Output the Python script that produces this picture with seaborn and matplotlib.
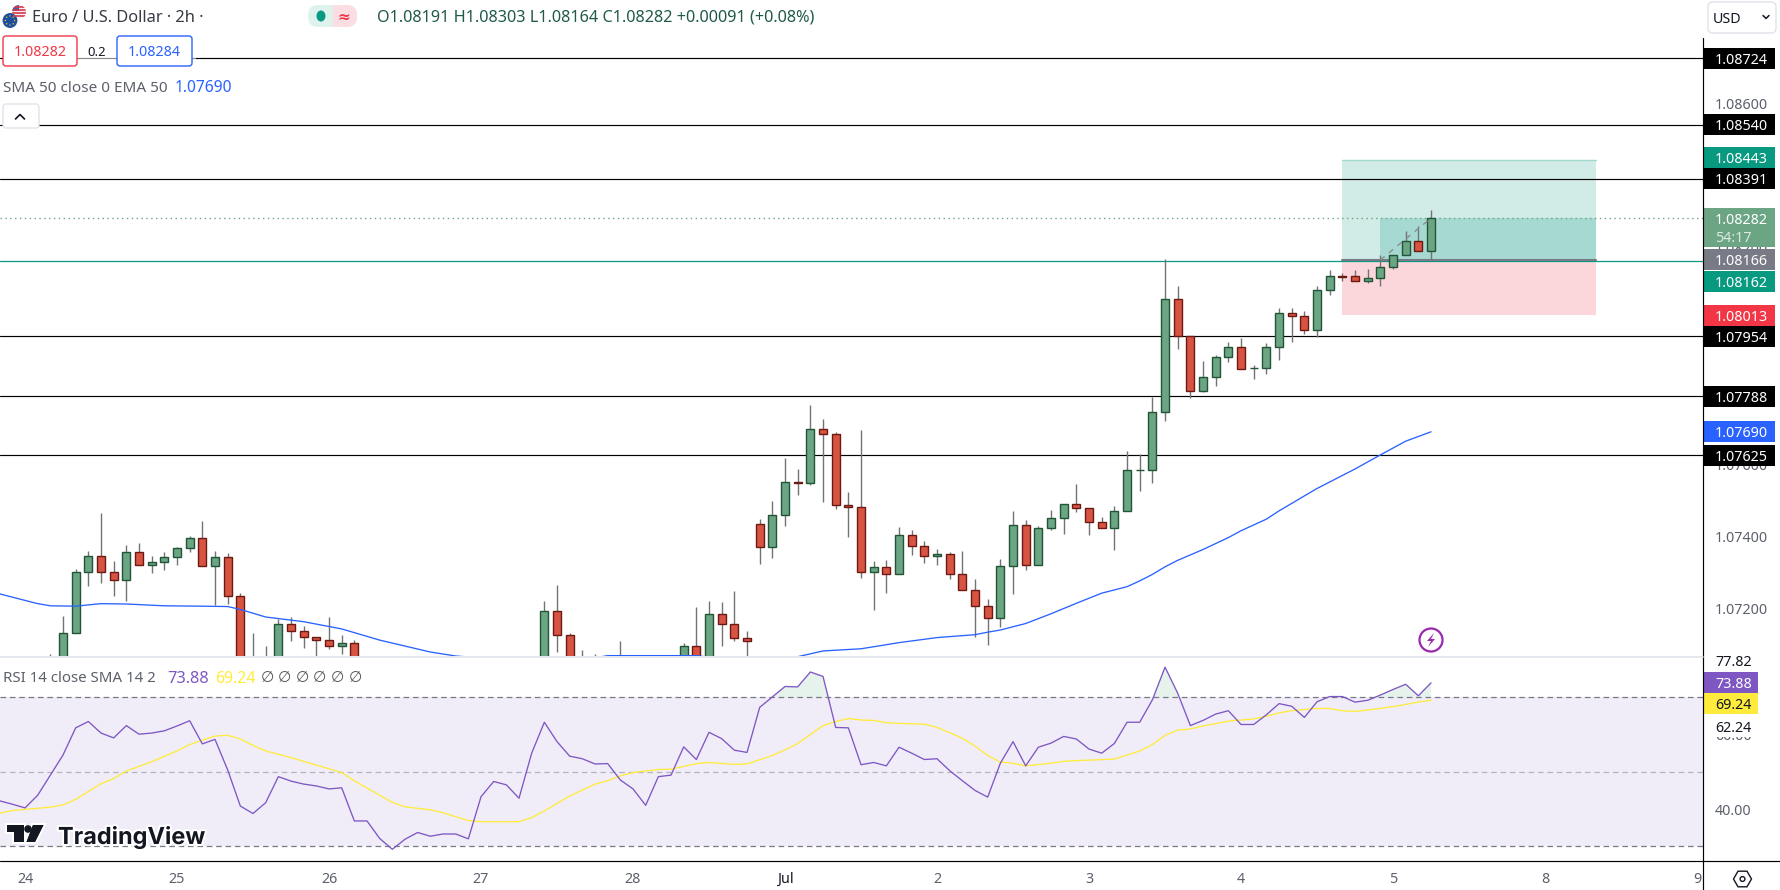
import numpy as np
import seaborn as sns
import matplotlib.pyplot as plt
from matplotlib import patches
import matplotlib.patheffects as pe

# candles that reach into the visible part of the price pane
candle_idx = [2, 3, 4, 5, 6, 7, 8, 9, 10, 11, 12, 13, 14, 15, 16, 17, 18, 19, 20, 21, 22, 23, 24, 25, 26,
              41, 42, 43, 44, 45, 47, 52, 53, 54, 55, 56, 57,
              58, 59, 60, 61, 62, 63, 64, 65, 66, 67, 68, 69, 70, 71, 72, 73, 74, 75, 76,
              77, 78, 79, 80, 81, 82, 83, 84, 85, 86, 87, 88, 89, 90, 91, 92, 93, 94, 95, 96,
              97, 98, 99, 100, 101, 102, 103, 104, 105, 106, 107, 108, 109, 110, 111]
opens = [1.07040, 1.07002, 1.07134, 1.07301, 1.07345, 1.07301, 1.07279, 1.07356, 1.07320, 1.07328,
         1.07342, 1.07367, 1.07395, 1.07317, 1.07342, 1.07234, 1.07050, 1.07040, 1.07020, 1.07159,
         1.07137, 1.07123, 1.07112, 1.07098, 1.07104,
         1.07020, 1.07195, 1.07126, 1.07040, 1.07040, 1.07040, 1.07030, 1.07096, 1.07040, 1.07184,
         1.07159, 1.07118,
         1.07434, 1.07370, 1.07459, 1.07550, 1.07547, 1.07697, 1.07683, 1.07486, 1.07481, 1.07301,
         1.07315, 1.07295, 1.07403, 1.07373, 1.07345, 1.07351, 1.07295, 1.07251, 1.07207,
         1.07173, 1.07317, 1.07431, 1.07320, 1.07423, 1.07450, 1.07489, 1.07478, 1.07439, 1.07423,
         1.07470, 1.07583, 1.07584, 1.07744, 1.08057, 1.07956, 1.07802, 1.07841, 1.07896, 1.07924,
         1.07866, 1.07866, 1.07924, 1.08018, 1.08010, 1.07971, 1.08082, 1.08121, 1.08121, 1.08107,
         1.08115, 1.08146, 1.08179, 1.08218, 1.08191]
highs = [1.07074, 1.07180, 1.07310, 1.07360, 1.07465, 1.07332, 1.07376, 1.07382, 1.07346, 1.07356,
         1.07371, 1.07401, 1.07443, 1.07360, 1.07354, 1.07243, 1.07133, 1.07097, 1.07171, 1.07177,
         1.07152, 1.07123, 1.07177, 1.07127, 1.07113,
         1.07221, 1.07266, 1.07133, 1.07085, 1.07074, 1.07110, 1.07105, 1.07205, 1.07221, 1.07218,
         1.07249, 1.07138,
         1.07448, 1.07498, 1.07617, 1.07587, 1.07764, 1.07725, 1.07689, 1.07523, 1.07695, 1.07332,
         1.07335, 1.07426, 1.07418, 1.07387, 1.07365, 1.07357, 1.07360, 1.07282, 1.07227,
         1.07338, 1.07471, 1.07446, 1.07429, 1.07473, 1.07489, 1.07545, 1.07478, 1.07454, 1.07484,
         1.07637, 1.07628, 1.07786, 1.08168, 1.08094, 1.07956, 1.07886, 1.07903, 1.07939, 1.07950,
         1.07875, 1.07936, 1.08033, 1.08033, 1.08025, 1.08094, 1.08138, 1.08130, 1.08138, 1.08141,
         1.08180, 1.08179, 1.08246, 1.08260, 1.08303]
lows = [1.07000, 1.07000, 1.07134, 1.07264, 1.07272, 1.07236, 1.07222, 1.07320, 1.07300, 1.07308,
        1.07322, 1.07358, 1.07317, 1.07211, 1.07214, 1.07050, 1.07000, 1.07000, 1.07000, 1.07111,
        1.07092, 1.07058, 1.07089, 1.07075, 1.07040,
        1.07000, 1.07081, 1.07000, 1.07000, 1.07000, 1.07000, 1.07000, 1.07000, 1.07000, 1.07097,
        1.07111, 1.07040,
        1.07325, 1.07341, 1.07430, 1.07515, 1.07543, 1.07495, 1.07475, 1.07399, 1.07286, 1.07197,
        1.07244, 1.07295, 1.07349, 1.07327, 1.07322, 1.07283, 1.07251, 1.07122, 1.07100,
        1.07150, 1.07241, 1.07308, 1.07320, 1.07418, 1.07408, 1.07469, 1.07405, 1.07423, 1.07363,
        1.07470, 1.07527, 1.07549, 1.07721, 1.07920, 1.07783, 1.07799, 1.07818, 1.07884, 1.07863,
        1.07837, 1.07851, 1.07890, 1.07939, 1.07962, 1.07952, 1.08070, 1.08108, 1.08107, 1.08103,
        1.08095, 1.08140, 1.08179, 1.08190, 1.08164]
closes = [1.07050, 1.07134, 1.07301, 1.07345, 1.07301, 1.07279, 1.07356, 1.07320, 1.07328, 1.07342,
          1.07367, 1.07395, 1.07317, 1.07342, 1.07234, 1.07060, 1.07040, 1.07050, 1.07159, 1.07137,
          1.07123, 1.07112, 1.07098, 1.07104, 1.07050,
          1.07195, 1.07126, 1.07040, 1.07020, 1.07020, 1.07020, 1.07096, 1.07040, 1.07184, 1.07159,
          1.07118, 1.07110,
          1.07370, 1.07459, 1.07550, 1.07549, 1.07697, 1.07683, 1.07486, 1.07481, 1.07301, 1.07315,
          1.07295, 1.07403, 1.07373, 1.07345, 1.07351, 1.07295, 1.07251, 1.07207, 1.07173,
          1.07317, 1.07431, 1.07320, 1.07423, 1.07450, 1.07489, 1.07478, 1.07439, 1.07423, 1.07470,
          1.07583, 1.07584, 1.07744, 1.08057, 1.07956, 1.07802, 1.07841, 1.07896, 1.07924, 1.07863,
          1.07867, 1.07924, 1.08018, 1.08010, 1.07971, 1.08082, 1.08121, 1.08120, 1.08107, 1.08115,
          1.08146, 1.08179, 1.08218, 1.08190, 1.08282]

ema_idx = [-2, 1, 2, 4, 6, 8, 11, 14, 16, 17, 19, 22, 25, 28, 32, 34, 38, 44, 46, 53, 57, 61, 63, 66, 69,
           72, 75, 76, 77, 79, 81, 83, 85, 87, 88, 89, 90, 91, 93, 95, 96, 98, 99, 102, 105, 107, 109, 111]
ema_vals = [1.07241, 1.07214, 1.07208, 1.07207, 1.07214, 1.07213, 1.07208, 1.07207, 1.07206, 1.07198,
            1.07177, 1.07164, 1.07144, 1.07113, 1.07080, 1.07069, 1.07058, 1.07058, 1.07070, 1.07070,
            1.07052, 1.07067, 1.07083, 1.07089, 1.07106, 1.07120, 1.07128, 1.07135, 1.07141, 1.07159,
            1.07186, 1.07215, 1.07243, 1.07261, 1.07277, 1.07295, 1.07316, 1.07334, 1.07364, 1.07397,
            1.07416, 1.07448, 1.07471, 1.07533, 1.07587, 1.07626, 1.07664, 1.07690]

rsi_idx = list(range(-2, 112))
rsi_vals = [42.2, 41.3, 40.3, 43.7, 49.1, 54.5, 61.8, 63.5, 60.4, 59.1, 62.4, 60.1, 60.4, 61.0, 62.3, 63.7,
            57.5, 58.7, 50.5, 40.8, 38.8, 41.7, 48.7, 47.5, 46.7, 46.2, 45.4, 45.7, 36.8, 36.8, 32.1, 29.2,
            31.9, 33.7, 32.7, 33.3, 33.3, 32.0, 43.3, 47.4, 46.5, 42.9, 55.0, 63.3, 58.1, 54.2, 53.5, 52.1,
            52.2, 47.8, 45.4, 41.0, 48.7, 49.1, 56.7, 53.3, 60.6, 58.9, 55.8, 55.2, 67.3, 70.1, 72.9, 72.8,
            76.8, 75.6, 61.9, 61.8, 51.9, 52.5, 51.6, 56.6, 55.0, 53.3, 53.5, 50.3, 47.6, 45.0, 43.2, 52.3,
            58.1, 51.6, 56.6, 57.7, 59.5, 58.8, 56.1, 55.0, 57.6, 63.3, 63.3, 69.3, 78.1, 71.1, 62.4, 63.8,
            65.5, 66.4, 62.7, 62.7, 65.3, 68.3, 67.6, 64.6, 68.8, 70.2, 70.2, 68.7, 69.2, 70.6, 72.1, 73.5,
            70.4, 73.88]

sma_idx = [-2, -1, 0, 2, 3, 4, 6, 7, 8, 10, 12, 13, 14, 15, 16, 17, 18, 19, 21, 23, 25, 26, 28, 29, 30, 32,
           33, 35, 36, 39, 40, 41, 43, 45, 46, 47, 48, 50, 51, 53, 54, 56, 57, 59, 60, 61, 62, 63, 64, 65,
           66, 67, 68, 69, 71, 72, 73, 74, 75, 76, 77, 78, 79, 81, 82, 83, 86, 87, 88, 89, 90, 91, 92, 93,
           95, 97, 98, 99, 100, 102, 103, 104, 105, 106, 108, 110, 111]
sma_vals = [38.9, 39.6, 39.9, 40.5, 41.1, 42.6, 46.8, 48.2, 50.2, 52.7, 55.6, 57.3, 58.5, 59.6, 59.8, 58.8,
            57.1, 55.6, 53.8, 51.8, 49.8, 47.6, 43.7, 41.8, 40.6, 39.8, 39.0, 36.9, 36.6, 36.6, 37.7, 39.5,
            43.5, 46.7, 47.6, 48.9, 49.8, 50.6, 50.7, 52.2, 52.5, 52.0, 52.1, 54.4, 55.9, 57.6, 60.0, 62.4,
            63.5, 64.3, 63.9, 63.8, 63.2, 63.0, 62.8, 61.9, 60.5, 59.0, 56.9, 54.4, 52.6, 52.3, 51.6, 52.3,
            52.8, 53.0, 53.4, 54.5, 55.6, 57.3, 59.8, 61.2, 61.5, 62.3, 63.6, 64.2, 64.9, 65.8, 66.4, 67.0,
            67.0, 66.4, 66.2, 66.6, 67.5, 68.7, 69.24]

levels = [1.08724, 1.08540, 1.08391, 1.07954, 1.07788, 1.07625]
last_close = 1.08282
bid_line = 1.08162
entry, target, stop = 1.08166, 1.08443, 1.08013
tool_start, tool_mid, tool_end = 104, 107, 124

price_ticks = [1.07200, 1.07400, 1.07600, 1.07800, 1.08000, 1.08200, 1.08400, 1.08600]
rsi_ticks = [40, 60]
day_ticks = [0, 12, 24, 36, 48, 60, 72, 84, 96, 108, 120, 132]
day_labels = ['24', '25', '26', '27', '28', 'Jul', '2', '3', '4', '5', '8', '9']

GREEN, GREEN_EDGE = '#6BA583', '#225437'
RED, RED_EDGE = '#D75442', '#6B1A13'
WICK = '#737375'
TEAL = '#089981'
FONT = 'Noto Sans'
GREY_TXT = '#5d606b'

sns.set_style('white')
plt.rcParams['font.family'] = [FONT, 'DejaVu Sans']

fig = plt.figure(figsize=(17.8, 8.9), dpi=100)
ax = fig.add_axes([0, 1 - 656 / 890, 1703 / 1780, 656 / 890])
ax_rsi = fig.add_axes([0, 1 - 861 / 890, 1703 / 1780, 204 / 890])
for a in (ax, ax_rsi):
    a.set_xlim(-1.974, 132.47)
    sns.despine(ax=a, left=True, bottom=True, right=True, top=True)
    a.yaxis.tick_right()
ax.set_ylim(1.07069, 1.08886)
ax_rsi.set_ylim(26.05, 80.82)

# position tool
ax.fill_between([tool_start, tool_end], entry, target, color='#D1EBE6', lw=0, zorder=1)
ax.fill_between([tool_mid, tool_end], entry, last_close, color='#A6D9D1', lw=0, zorder=1.1)
ax.fill_between([tool_start, tool_end], stop, entry, color='#FBD7DB', lw=0, zorder=1)
ax.plot([tool_start, tool_end], [target, target], color='#A3DBD0', lw=1, zorder=1.2)
ax.plot([tool_start, tool_end], [entry, entry], color='#787B86', lw=1.5, zorder=1.5)

# levels
for lev in levels:
    ax.axhline(lev, color='black', lw=0.85, zorder=2)
ax.axhline(bid_line, color=TEAL, lw=0.9, zorder=1.3)
ax.axhline(last_close, color=GREEN, lw=1, ls=(0, (1, 2.5)), zorder=1.6)

# candles
idx = np.array(candle_idx)
o, h, l, c = map(np.array, (opens, highs, lows, closes))
up = c >= o
ax.vlines(idx, l, h, color=WICK, lw=1.0, zorder=3)
ax.bar(idx[up], (c - o)[up], bottom=o[up], width=0.64, color=GREEN, edgecolor=GREEN_EDGE, lw=1, zorder=4)
ax.bar(idx[~up], (o - c)[~up], bottom=c[~up], width=0.64, color=RED, edgecolor=RED_EDGE, lw=1, zorder=4)

sns.lineplot(x=ema_idx, y=ema_vals, color='#2962FF', lw=0.95, ax=ax, zorder=5, errorbar=None)
ax.plot([tool_mid, 111], [entry, last_close], color='#8a8c94', lw=1, ls=(0, (4, 4)), zorder=6)

ax.set_yticks(price_ticks, [f'{v:.5f}' for v in price_ticks])
ax.set_xticks([])
ax.tick_params(axis='y', length=0, pad=8.5, labelsize=10.3, labelcolor=GREY_TXT)

# rsi pane
ax_rsi.axhspan(30, 70, color='#F0EDF9', lw=0, zorder=1)
for lev, col in ((70, '#787B86'), (50, '#B2B5BE'), (30, '#787B86')):
    ax_rsi.axhline(lev, color=col, lw=0.9, ls=(0, (4.5, 3)), zorder=2)
rsi_arr = np.array(rsi_vals)
ax_rsi.fill_between(rsi_idx, 70, rsi_arr, where=rsi_arr > 70, interpolate=True, color='#E6F2EC', lw=0, zorder=1)
sns.lineplot(x=sma_idx, y=sma_vals, color='#FFEB3B', lw=0.95, ax=ax_rsi, zorder=3, errorbar=None)
sns.lineplot(x=rsi_idx, y=rsi_vals, color='#7E57C2', lw=0.95, ax=ax_rsi, zorder=4, errorbar=None)
ax_rsi.set_yticks(rsi_ticks, [f'{v:.2f}' for v in rsi_ticks])
ax_rsi.set_xticks(day_ticks, day_labels)
ax_rsi.tick_params(axis='y', length=0, pad=8.5, labelsize=10.3, labelcolor=GREY_TXT)
ax_rsi.tick_params(axis='x', length=0, pad=8, labelsize=10.3, labelcolor=GREY_TXT)
ax_rsi.get_xticklabels()[5].set_color('#131722')
ax_rsi.get_xticklabels()[5].set_fontweight('semibold')

# overlay in figure pixels for the terminal furniture
over = fig.add_axes([0, 0, 1, 1], zorder=10)
over.set_xlim(0, 1780)
over.set_ylim(890, 0)
over.axis('off')


def px_y(axis, value):
    return 890 - axis.transData.transform((0, value))[1]


def tag(y, label, bg, fg='white', x1=1775, h=21):
    over.add_patch(patches.Rectangle((1703, y - h / 2), x1 - 1703, h, facecolor=bg, lw=0))
    over.text(1715, y, label, color=fg, fontsize=10.3, va='center_baseline', ha='left')


def pill(x0, y0, x1, y1, edge, face='white', lw=1, r=3):
    over.add_patch(patches.FancyBboxPatch((x0, y0), x1 - x0, y1 - y0, boxstyle=f'round,pad=0,rounding_size={r}',
                                          facecolor=face, edgecolor=edge, lw=lw))


# axis lines
over.plot([1703, 1703], [38, 890], color='black', lw=0.85)
over.plot([0, 1703], [656.5, 656.5], color='#E0E3EB', lw=1.2)
over.plot([0, 1780], [861, 861], color='black', lw=0.85)

# price tags, with the small shifts the terminal uses to keep them apart
for val in (1.08724, 1.08540, 1.08391, 1.07954, 1.07788, 1.07625):
    tag(px_y(ax, val), f'{val:.5f}', 'black')
tag(px_y(ax, target) - 2.4, f'{target:.5f}', TEAL)
over.add_patch(patches.Rectangle((1703, 208), 72, 39, facecolor=GREEN, lw=0))
over.text(1715, px_y(ax, last_close), f'{last_close:.5f}', color='white', fontsize=10.3, va='center_baseline')
over.text(1715, 236.5, '54:17', color='#DCE9E2', fontsize=10.3, va='center_baseline')
tag(px_y(ax, entry), f'{entry:.5f}', '#787B86')
tag(281.5, f'{bid_line:.5f}', TEAL)
tag(px_y(ax, stop), f'{stop:.5f}', '#F23645')
tag(px_y(ax, 1.07690), '1.07690', '#2962FF')

# rsi tags
over.text(1715, 660.5, '77.82', color='#131722', fontsize=10.3, va='center_baseline')
over.add_patch(patches.Rectangle((1704, 645), 76, 12, facecolor='white', lw=0))
tag(px_y(ax_rsi, 73.88), '73.88', '#7E57C2', x1=1758)
tag(703.5, '69.24', '#FFEB3B', fg='#131722', x1=1758)
tag(px_y(ax_rsi, 62.24), '62.24', 'white', fg='#131722', x1=1758)

# flags
us = patches.Circle((19, 12), 7, facecolor='#F2F2F6', edgecolor='none')
over.add_patch(us)
for yy in (7, 10, 13, 16):
    stripe, = over.plot([11, 27], [yy, yy], color='#D8394B', lw=1.2)
    stripe.set_clip_path(us)
canton = patches.Rectangle((11, 4), 8, 7, facecolor='#3B5FA8', lw=0)
over.add_patch(canton)
canton.set_clip_path(us)
over.add_patch(patches.Circle((10, 20.5), 8, facecolor='#1E4F9C', edgecolor='white', lw=0.8))
for ang in np.arange(0, 360, 45):
    over.add_patch(patches.Circle((10 + 4.6 * np.cos(np.radians(ang)), 20.5 + 4.6 * np.sin(np.radians(ang))), 0.7,
                                  facecolor='#E9C93F', lw=0))

# header
over.text(31.5, 16, 'Euro / U.S. Dollar · 2h ·', color='#131722', fontsize=11.8, va='center_baseline', alpha=0.85)
over.add_patch(patches.FancyBboxPatch((308, 5), 49, 22, boxstyle='round,pad=0,rounding_size=10', facecolor='#DFF3EE', lw=0))
right_half = patches.FancyBboxPatch((308, 5), 49, 22, boxstyle='round,pad=0,rounding_size=10', facecolor='#FBDDE4', lw=0)
over.add_patch(right_half)
right_half.set_clip_path(patches.Rectangle((333, 0), 40, 40, transform=over.transData))
over.add_patch(patches.Ellipse((321, 16), 9, 11, facecolor=TEAL, lw=0))
over.text(343.5, 16, '≈', color='#F23645', fontsize=11, ha='center', va='center_baseline', fontweight='bold')
over.text(377, 16, 'O1.08191 H1.08303 L1.08164 C1.08282 +0.00091 (+0.08%)', color='#1f5a4a', fontsize=11.7,
          va='center_baseline')

over.add_patch(patches.Rectangle((77, 52), 40, 12, facecolor='white', alpha=0.55, lw=0))
over.add_patch(patches.Rectangle((192, 52), 4, 12, facecolor='white', alpha=0.55, lw=0))
pill(3, 36, 77, 66, '#F23645')
pill(117, 36, 192, 66, '#2962FF')
over.text(40, 51, '1.08282', color='#F23645', fontsize=10.3, ha='center', va='center_baseline')
over.text(97, 51, '0.2', color='#131722', fontsize=9.4, ha='center', va='center_baseline')
over.text(154.5, 51, '1.08284', color='#2962FF', fontsize=10.3, ha='center', va='center_baseline')
over.text(3, 86.5, 'SMA 50 close 0 EMA 50', color=GREY_TXT, fontsize=11, va='center_baseline')
over.text(175, 86.5, '1.07690', color='#2962FF', fontsize=11.2, va='center_baseline')
pill(3, 104, 39, 128, '#E0E3EB')
over.plot([15.5, 20, 24.5], [119, 114.5, 119], color='#131722', lw=1.2)

pill(1708, 2, 1776, 33, '#E0E3EB', r=5)
over.text(1713, 17.5, 'USD', color='#131722', fontsize=10.3, va='center_baseline')
over.plot([1763, 1766, 1769], [15.5, 18.5, 15.5], color='#131722', lw=1.1)

# rsi legend
over.text(3, 677, 'RSI 14 close SMA 14 2', color=GREY_TXT, fontsize=10.8, va='center_baseline')
over.text(167, 677, '73.88', color='#7E57C2', fontsize=11.8, va='center_baseline')
over.text(215, 677, '69.24', color='#FFEB3B', fontsize=11.4, va='center_baseline', fontweight='bold')
for k in range(6):
    over.text(267 + 17.6 * k, 677, '∅', color='#555555', fontsize=11, ha='center', va='center_baseline')

# lightning marker
over.add_patch(patches.Circle((1431, 640), 11.5, facecolor='white', edgecolor='#9C27B0', lw=1.6))
over.add_patch(patches.Polygon([(1434, 633), (1427, 641), (1431, 641), (1428, 647), (1435, 639), (1431, 639)],
                               facecolor='#9C27B0', lw=0))

# settings hexagon
over.add_patch(patches.RegularPolygon((1742.5, 879), 6, radius=9, orientation=np.pi / 6, facecolor='white',
                                      edgecolor='#131722', lw=1))
over.add_patch(patches.Circle((1742.5, 879), 2.4, facecolor='white', edgecolor='#131722', lw=1))

# logo
halo = [pe.withStroke(linewidth=3, foreground='white')]
logo = '#131722'
for shape in ([(7, 825), (24, 825), (24, 842), (14, 842), (14, 832), (7, 832)],
              [(33, 825), (43.5, 825), (35, 842), (26.5, 842)]):
    p = patches.Polygon(shape, facecolor=logo, lw=0)
    over.add_patch(p)
    p.set_path_effects(halo + [pe.Normal()])
dot = patches.Circle((28, 829), 3.8, facecolor=logo, lw=0)
over.add_patch(dot)
over.text(58, 835, 'TradingView', color=logo, fontsize=16.9, fontweight='bold', family='Inter',
          va='center_baseline', path_effects=halo)

fig.savefig('out.png', dpi=100)
